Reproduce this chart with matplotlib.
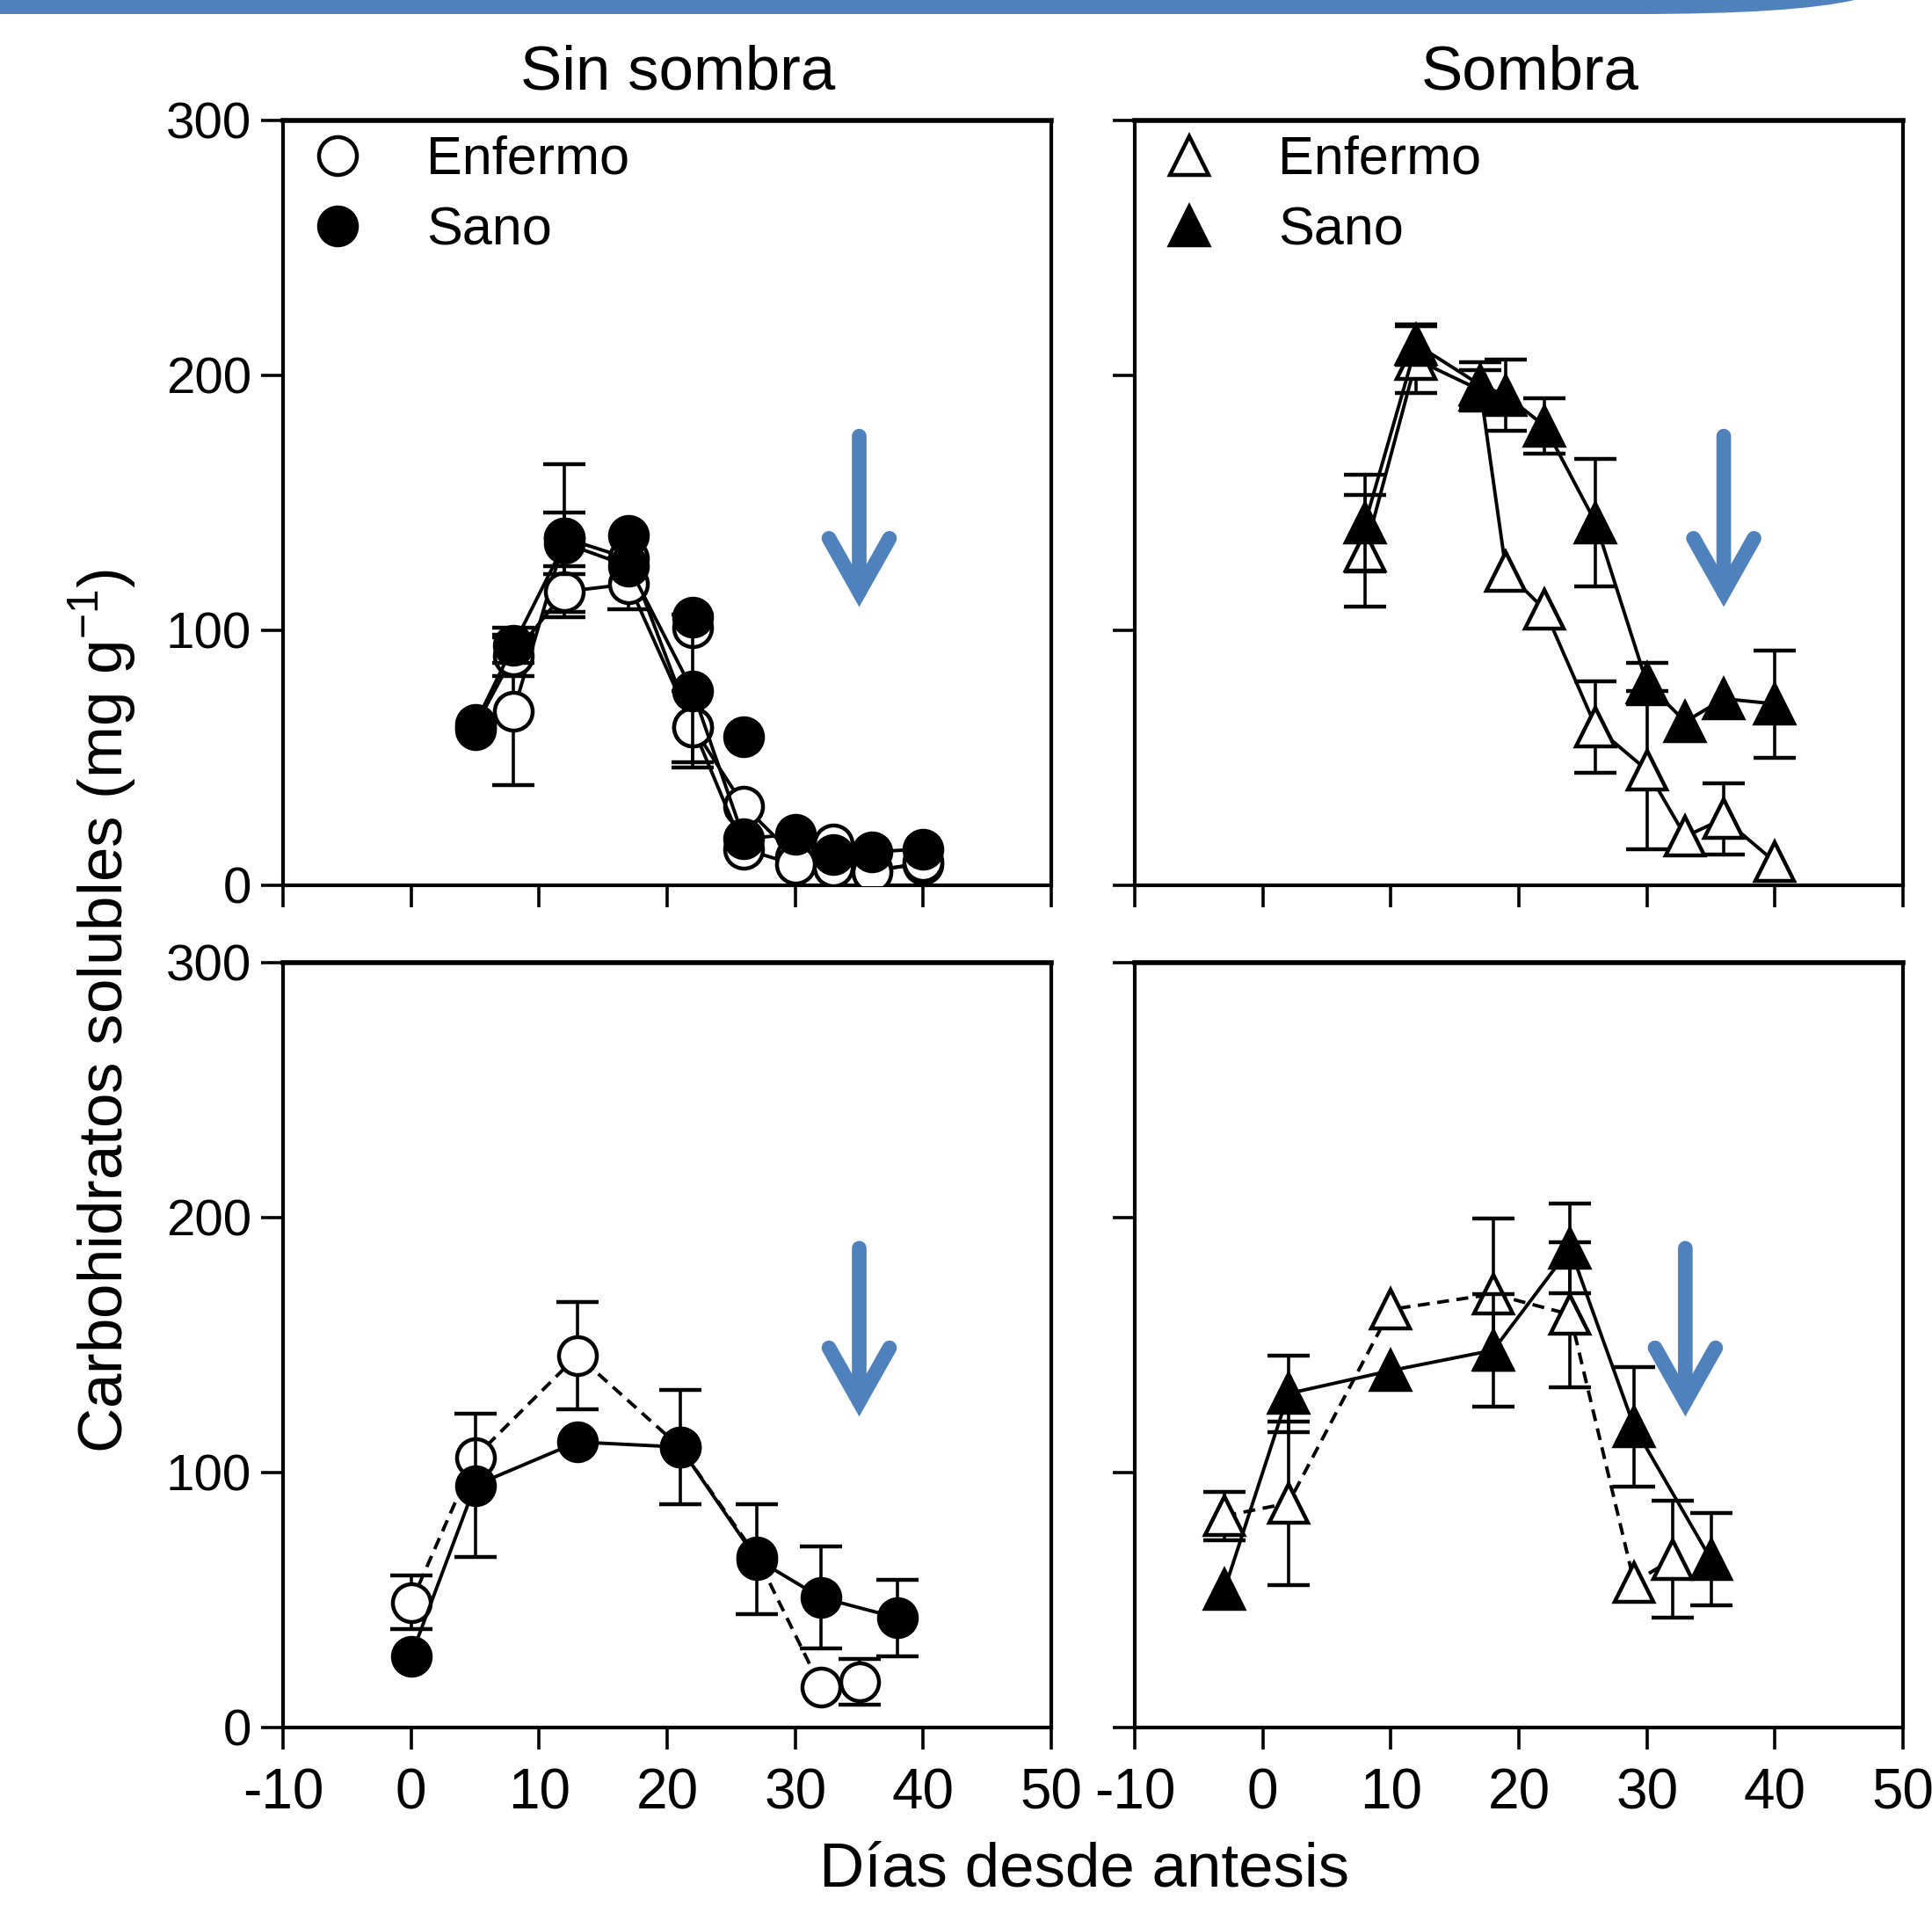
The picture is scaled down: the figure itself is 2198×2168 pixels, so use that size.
import numpy as np
import matplotlib.pyplot as plt
from matplotlib.lines import Line2D
from matplotlib.patches import FancyArrowPatch, PathPatch
from matplotlib.path import Path

plt.rcParams['font.family'] = ['Liberation Sans', 'DejaVu Sans']
plt.rcParams['axes.unicode_minus'] = False

NAN = np.nan

# --- Sin sombra, experimento 1 (panel superior izquierdo) ---
TL_X = [5, 8, 12, 17, 22, 26, 30, 33, 36, 40]
TL_SANO = [63, 94, 134, 125, 76, 18, 20, 12, 13, 14]
TL_SANO_ERR = [NAN, 7, 12, NAN, 30, NAN, NAN, NAN, NAN, NAN]
TL_ENF1 = [61, 68, 136, 128, 62, 31, 11, 16, 6, 8]
TL_ENF1_ERR = [NAN, 29, 29, NAN, 14, NAN, NAN, NAN, NAN, NAN]
TL_ENF2 = [62, 90, 115, 118, 62, 14, 8, 7, 5, 9]
TL_ENF2_ERR = [NAN, 8, 10, 10, NAN, NAN, NAN, NAN, NAN, NAN]
# puntos sin linea
TL_SANO_PTS_X = [12, 17, 22, 26]
TL_SANO_PTS = [136, 137, 105, 58]
TL_ENF_PTS_X = [22]
TL_ENF_PTS = [101]

# --- Sombra, experimento 1 (panel superior derecho) ---
TR_X = [8, 12, 17, 19, 22, 26, 30, 33, 36, 40]
TR_SANO = [142, 212, 196, 192, 180, 142, 79, 64, 73, 71]
TR_SANO_ERR = [19, 8, 9, 14, 11, 25, 8, NAN, NAN, 21]
TR_ENF = [131, 206, 194, 123, 108, 62, 45, 19, 26, 9]
TR_ENF_ERR = [22, 13, 8, NAN, NAN, 18, 31, NAN, 14, NAN]

# --- Sin sombra, experimento 2 (panel inferior izquierdo) ---
BL_ENF_X = [0, 5, 13, 21, 27, 32, 35]
BL_ENF = [49, 106, 146, 110, 67, 16, 18]
BL_ENF_ERR = [10.5, NAN, 21, NAN, NAN, NAN, 9]
BL_SANO_X = [0, 5, 13, 21, 27, 32, 38]
BL_SANO = [28, 95, 112, 110, 66, 51, 43]
BL_SANO_ERR = [NAN, 28, NAN, 22.5, 21.5, 20, 15]

# --- Sombra, experimento 2 (panel inferior derecho) ---
BR_ENF_X = [-3, 2, 10, 18, 24, 29, 32]
BR_ENF = [83, 88, 164, 170, 162, 57, 66]
BR_ENF_ERR = [9.5, 32, NAN, 29.5, 28.5, NAN, 23]
BR_SANO_X = [-3, 2, 10, 18, 24, 29, 35]
BR_SANO = [54, 131, 140, 148, 188, 118, 66]
BR_SANO_ERR = [NAN, 15, NAN, 22, 17.5, 23.5, 18]

BLUE = "#4F81BD"
W, H = 2198, 2168
MS_C = 15.5
MS_T = 15.5
MEW = 1.6
LW = 1.4


def series(ax, x, y, err, marker, filled, ls="-", ms=MS_C, z=3):
    ax.errorbar(x, y, yerr=err, fmt="none", ecolor="black", elinewidth=1.3,
                capsize=8.5, capthick=1.6, zorder=z - 1)
    ax.plot(x, y, ls=ls, color="black", lw=LW, marker=marker, ms=ms,
            mfc="black" if filled else "white", mec="black", mew=MEW,
            zorder=z, dashes=(3.5, 2.2) if ls == "--" else (None, None))


def points(ax, x, y, marker, filled, ms=MS_C, z=3):
    ax.plot(x, y, ls="none", marker=marker, ms=ms,
            mfc="black" if filled else "white", mec="black", mew=MEW, zorder=z)


def blue_arrow(ax, x, y_top, y_tip):
    ax.add_patch(FancyArrowPatch((x, y_top), (x, y_tip),
                                 arrowstyle="->,head_length=1.1,head_width=0.62",
                                 mutation_scale=20, lw=6, color=BLUE,
                                 capstyle="round", joinstyle="miter",
                                 shrinkA=0, shrinkB=0, zorder=6))


def setup(ax, xlabels, ylabels):
    ax.set_xlim(-10, 50)
    ax.set_ylim(0, 300)
    ax.set_xticks(range(-10, 51, 10))
    ax.set_yticks([0, 100, 200, 300])
    for s in ax.spines.values():
        s.set_linewidth(1.5)
    ax.spines["top"].set_linewidth(2.0)
    ax.tick_params(axis="both", direction="out", length=9, width=1.3)
    ax.tick_params(axis="x", labelsize=23, labelbottom=xlabels, pad=7.5)
    ax.tick_params(axis="y", labelsize=21, labelleft=ylabels, pad=4)


def legend(ax, marker):
    handles = [
        Line2D([], [], ls="none", marker=marker, ms=MS_C, mfc="white", mec="black", mew=MEW),
        Line2D([], [], ls="none", marker=marker, ms=MS_C, mfc="black", mec="black", mew=MEW),
    ]
    ax.legend(handles, ["Enfermo", "Sano"], loc="upper left", bbox_to_anchor=(0.036, 0.98),
              frameon=False, fontsize=22, handlelength=1.0, handletextpad=1.15,
              borderpad=0, borderaxespad=0, labelspacing=0.38)


fig = plt.figure(figsize=(W / 200, H / 200), dpi=200)

# barra azul del encabezado
verts = [(0, 1 + 0.01), (2110 / W, 1 + 0.01), (2110 / W, 1), (2040 / W, 1 - 16 / H),
         (1860 / W, 1 - 16 / H), (0, 1 - 16 / H), (0, 1 + 0.01)]
codes = [Path.MOVETO, Path.LINETO, Path.LINETO, Path.CURVE3, Path.CURVE3,
         Path.LINETO, Path.CLOSEPOLY]
fig.patches.append(PathPatch(Path(verts, codes), transform=fig.transFigure,
                             facecolor=BLUE, edgecolor="none"))

left_l, left_r, width = 322 / W, 1291 / W, 874 / W
top_b, bot_b, height = 1 - 1006.5 / H, 1 - 1965 / H, 870 / H

ax_tl = fig.add_axes([left_l, top_b, width, height])
ax_tr = fig.add_axes([left_r, top_b, width, height])
ax_bl = fig.add_axes([left_l, bot_b, width, height])
ax_br = fig.add_axes([left_r, bot_b, width, height])

setup(ax_tl, False, True)
setup(ax_tr, False, False)
setup(ax_bl, True, True)
setup(ax_br, True, False)

# superior izquierdo
series(ax_tl, TL_X, TL_ENF1, TL_ENF1_ERR, "o", False)
series(ax_tl, TL_X, TL_ENF2, TL_ENF2_ERR, "o", False)
points(ax_tl, TL_ENF_PTS_X, TL_ENF_PTS, "o", False)
series(ax_tl, TL_X, TL_SANO, TL_SANO_ERR, "o", True, z=4)
points(ax_tl, TL_SANO_PTS_X, TL_SANO_PTS, "o", True, z=4)
legend(ax_tl, "o")
blue_arrow(ax_tl, 35, 176, 109)

# superior derecho
series(ax_tr, TR_X, TR_ENF, TR_ENF_ERR, "^", False, ms=MS_T)
series(ax_tr, TR_X, TR_SANO, TR_SANO_ERR, "^", True, ms=MS_T, z=4)
legend(ax_tr, "^")
blue_arrow(ax_tr, 36, 176, 109)

# inferior izquierdo
series(ax_bl, BL_ENF_X, BL_ENF, BL_ENF_ERR, "o", False, ls="--")
series(ax_bl, BL_SANO_X, BL_SANO, BL_SANO_ERR, "o", True, z=4)
blue_arrow(ax_bl, 35, 188, 122)

# inferior derecho
series(ax_br, BR_ENF_X, BR_ENF, BR_ENF_ERR, "^", False, ls="--", ms=MS_T)
series(ax_br, BR_SANO_X, BR_SANO, BR_SANO_ERR, "^", True, ms=MS_T, z=4)
blue_arrow(ax_br, 33, 188, 122)

fig.text(771 / W, 1 - 84 / H, "Sin sombra", ha="center", va="center", fontsize=25.5)
fig.text(1741 / W, 1 - 84 / H, "Sombra", ha="center", va="center", fontsize=25.5)
fig.text(1234 / W, 1 - 2128 / H, "Días desde antesis", ha="center", va="center", fontsize=25.5)
fig.text(116 / W, 1 - 1150 / H, r"Carbohidratos solubles (mg g$^{\mathregular{-1}}$)",
         rotation=90, ha="center", va="center", fontsize=25.5)

fig.savefig("out.png", dpi=200)
